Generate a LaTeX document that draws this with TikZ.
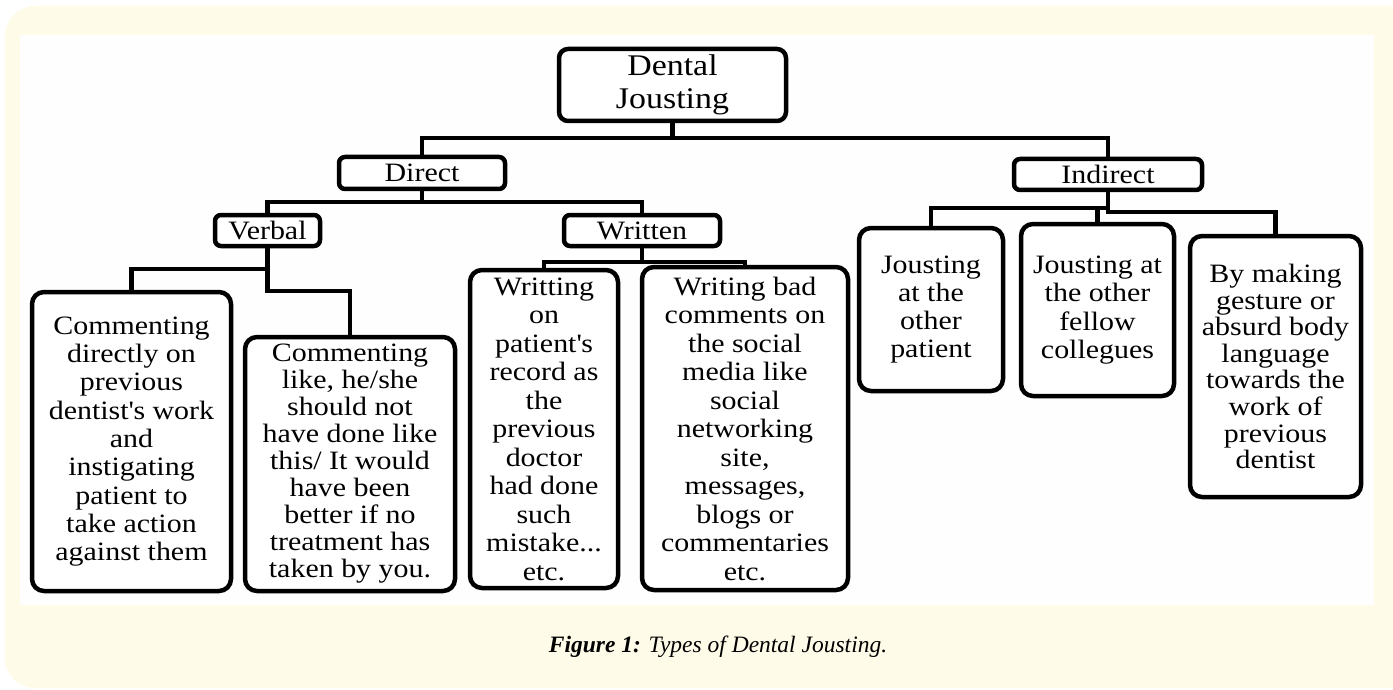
\documentclass[tikz,border=0pt]{standalone}
\usepackage{fontspec}
\setmainfont{Liberation Serif}[FakeStretch=1.13]
\newfontfamily\capfont{Liberation Serif}
\definecolor{bgyellow}{RGB}{255,251,233}
\definecolor{inwhite}{RGB}{254,254,254}
\newcommand{\ap}{\textquotesingle}
\begin{document}
\begin{tikzpicture}[x=1pt,y=-1pt,
  box/.style={draw=black, line width=4.5pt, rounded corners=12pt, inner sep=0pt, align=center,
    font=\fontsize{26.5}{28.3}\selectfont, fill=white},
  smallbox/.style={box, rounded corners=6pt},
  link/.style={line width=4.5pt, draw=black}]
\useasboundingbox (0,0) rectangle (1393,690);
\clip (0,0) rectangle (1393,690);
\fill[bgyellow, rounded corners=30pt] (5,6) rectangle (1440,688);
\fill[inwhite] (20,35) rectangle (1374,605);

% nodes
\node[box, rounded corners=9pt, minimum width=227pt, minimum height=72pt,
  font=\fontsize{30}{33}\selectfont] (top) at (672.5,85) {Dental\\Jousting};
\node[smallbox, minimum width=166pt, minimum height=32pt] (direct) at (422,173) {Direct};
\node[smallbox, minimum width=188pt, minimum height=31pt] (indirect) at (1108,174.5) {Indirect};
\node[smallbox, minimum width=105pt, minimum height=31pt] (verbal) at (267.5,230.5) {Verbal};
\node[smallbox, minimum width=156pt, minimum height=31pt] (written) at (642,230.5) {Written};

\node[box, minimum width=199pt, minimum height=299pt] (A) at (131.5,441.5)
  {Commenting\\directly on\\previous\\dentist\ap s work\\and\\instigating\\patient to\\take action\\against them};
\node[box, minimum width=210pt, minimum height=254pt, font=\fontsize{26.5}{27}\selectfont] (B) at (350,464)
  {Commenting\\like, he/she\\should not\\have done like\\this/ It would\\have been\\better if no\\treatment has\\taken by you.};
\node[box, minimum width=148pt, minimum height=318pt, font=\fontsize{26.5}{28.5}\selectfont] (C) at (544,429)
  {Writting\\on\\patient\ap s\\record as\\the\\previous\\doctor\\had done\\such\\mistake...\\etc.};
\node[box, minimum width=206pt, minimum height=323pt, font=\fontsize{26.5}{28.5}\selectfont] (D) at (745,428.5)
  {Writing bad\\comments on\\the social\\media like\\social\\networking\\site,\\messages,\\blogs or\\commentaries\\etc.};
\node[box, minimum width=144pt, minimum height=163pt] (E) at (931,309.5)
  {Jousting\\at the\\other\\patient};
\node[box, minimum width=153pt, minimum height=172pt] (F) at (1097.5,310)
  {Jousting at\\the other\\fellow\\collegues};
\node[box, minimum width=171pt, minimum height=261pt, font=\fontsize{26.5}{26.6}\selectfont] (G) at (1275.5,366.5)
  {By making\\gesture or\\absurd body\\language\\towards the\\work of\\previous\\dentist};

% connector levels
\coordinate (h1) at (0,138);
\coordinate (h2) at (0,202);
\coordinate (h3) at (0,269);
\coordinate (h3b) at (0,291);
\coordinate (h4) at (0,262);
\coordinate (h5) at (0,208);
\coordinate (h5b) at (0,212);

\draw[link] (direct.north) |- (indirect.north |- h1) -- (indirect.north);
\draw[link] (top.south) -- (top.south |- h1);

\draw[link] (verbal.north) |- (written.north |- h2) -- (written.north);
\draw[link] (direct.south) -- (direct.south |- h2);

\draw[link] (A.north) |- (verbal.south |- h3);
\draw[link] (verbal.south) |- (B.north |- h3b) -- (B.north);

\draw[link] (C.north) |- (D.north |- h4) -- (D.north);
\draw[link] (written.south) -- (written.south |- h4);

\draw[link] (E.north) |- (indirect.south |- h5);
\draw[link] (F.north) -- (F.north |- h5);
\draw[link] (indirect.south) |- (G.north |- h5b) -- (G.north);

% caption
\node[anchor=base, font=\fontsize{23.5}{27}\selectfont, inner sep=0pt] (cap) at (718,652)
  {\capfont\bfseries\itshape Figure 1: \mdseries Types of Dental Jousting.};
\end{tikzpicture}
\end{document}
